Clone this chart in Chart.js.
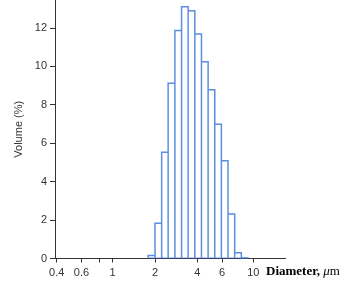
<!DOCTYPE html>
<html>
<head>
<meta charset="utf-8">
<script src="https://cdn.jsdelivr.net/npm/chart.js@4.4.1/dist/chart.umd.min.js"></script>
<style>
html,body{margin:0;padding:0;background:#fff;}
#wrap{width:358px;height:288px;position:relative;}
</style>
</head>
<body>
<div id="wrap"><canvas id="c" width="358" height="288"></canvas></div>
<script>
// Bin edges (µm) of the size classes and volume % in each class
const binEdges = [1.79, 2.0, 2.23, 2.48, 2.77, 3.09, 3.44, 3.84, 4.28, 4.77, 5.32, 5.93, 6.61, 7.37, 8.22, 9.16];
const volumes  = [0.15, 1.83, 5.53, 9.12, 11.87, 13.11, 12.90, 11.69, 10.25, 8.79, 6.99, 5.09, 2.32, 0.30, 0.03];
const xTicks = [0.4, 0.6, 0.8, 1, 2, 4, 6, 10];
const xTickLabels = ['0.4', '0.6', '', '1', '2', '4', '6', '10'];
const yTicks = [0, 2, 4, 6, 8, 10, 12];
const xTitle = 'Diameter, ';
const xUnit = 'μm';
const yTitle = 'Volume (%)';

// outline of histogram bars
const outline = [];
for (let i = 0; i < volumes.length; i++) {
  outline.push({x: binEdges[i], y: 0});
  outline.push({x: binEdges[i], y: volumes[i]});
  outline.push({x: binEdges[i + 1], y: volumes[i]});
  outline.push({x: binEdges[i + 1], y: 0});
}
const baseline = [{x: binEdges[0], y: 0}, {x: binEdges[binEdges.length - 1], y: 0}];

const FONT = '"Liberation Sans", Arial, sans-serif';

const xTitlePlugin = {
  id: 'xTitle',
  afterDraw(chart) {
    const ctx = chart.ctx;
    const area = chart.chartArea;
    ctx.save();
    ctx.fillStyle = '#000';
    ctx.textBaseline = 'alphabetic';
    let x = area.right - 19;
    const y = 275;
    ctx.font = 'bold 13px "Liberation Serif", "Times New Roman", serif';
    ctx.fillText(xTitle, x, y);
    x += ctx.measureText(xTitle).width;
    ctx.font = 'italic 13px "Liberation Serif", "Times New Roman", serif';
    ctx.fillText(xUnit.charAt(0), x, y);
    x += ctx.measureText(xUnit.charAt(0)).width;
    ctx.font = '13px "Liberation Serif", "Times New Roman", serif';
    ctx.fillText(xUnit.slice(1), x, y);
    ctx.restore();
  }
};

new Chart(document.getElementById('c'), {
  type: 'scatter',
  data: {
    datasets: [
      {
        data: outline,
        showLine: true,
        borderColor: '#5b8ee0',
        borderWidth: 1.5,
        pointRadius: 0,
        tension: 0,
        fill: false
      },
      {
        data: baseline,
        showLine: true,
        borderColor: '#2a4aa8',
        borderWidth: 1.5,
        pointRadius: 0,
        fill: false
      }
    ]
  },
  options: {
    responsive: false,
    animation: false,
    layout: {padding: {top: 0, right: 73, bottom: 0, left: 0}},
    plugins: {legend: {display: false}, tooltip: {enabled: false}},
    scales: {
      x: {
        type: 'logarithmic',
        min: 0.389,
        max: 16.8,
        afterBuildTicks: (s) => { s.ticks = xTicks.map(v => ({value: v})); },
        afterFit: (s) => { s.height = 29.5; s.paddingLeft = 0; s.paddingRight = 0; },
        ticks: {
          autoSkip: false, maxRotation: 0, minRotation: 0, padding: 4,
          color: '#333', font: {family: FONT, size: 11},
          callback: (v, i) => xTickLabels[i]
        },
        grid: {display: true, drawOnChartArea: false, drawTicks: true, tickLength: 4, color: '#333'},
        border: {display: true, color: '#333', width: 1}
      },
      y: {
        type: 'linear',
        min: 0,
        max: 13.46,
        afterBuildTicks: (s) => { s.ticks = yTicks.map(v => ({value: v})); },
        afterFit: (s) => { s.width = 55; s.paddingTop = 0; s.paddingBottom = 0; },
        ticks: {
          padding: 3, color: '#333', font: {family: FONT, size: 11}
        },
        title: {
          display: true, text: yTitle, color: '#333',
          font: {family: FONT, size: 11},
          padding: {top: 12, bottom: 0}
        },
        grid: {display: true, drawOnChartArea: false, drawTicks: true, tickLength: 5, color: '#333'},
        border: {display: true, color: '#333', width: 1}
      }
    }
  },
  plugins: [xTitlePlugin]
});
</script>
</body>
</html>
